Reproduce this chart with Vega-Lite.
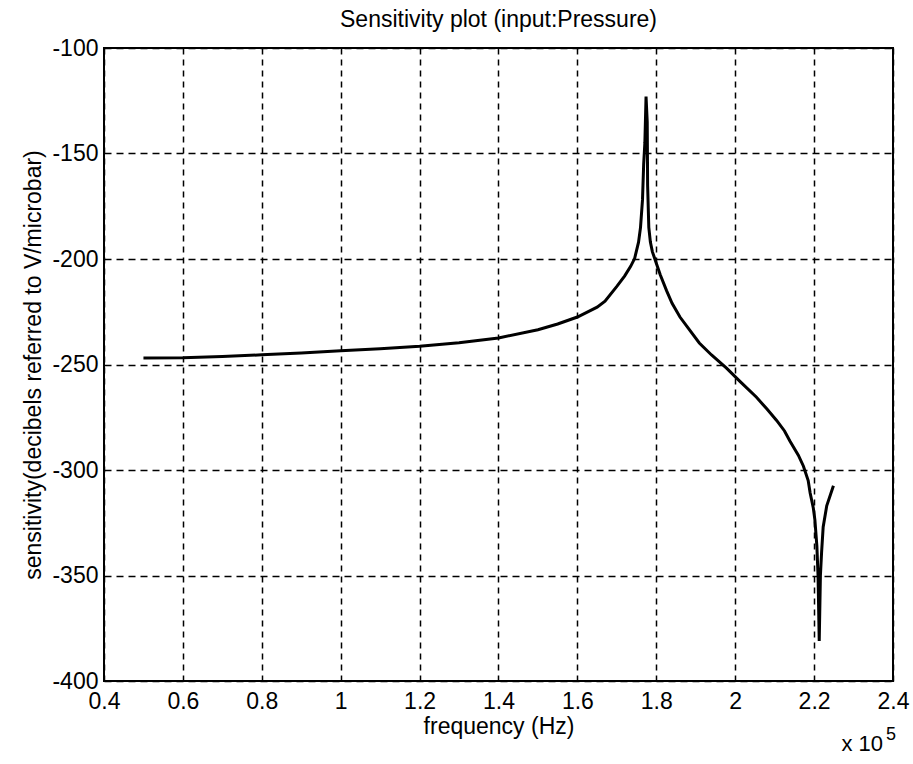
{
  "$schema": "https://vega.github.io/schema/vega-lite/v6.json",
  "width": 789,
  "height": 633,
  "autosize": {"type": "none"},
  "padding": {"left": 104, "top": 48, "right": 20, "bottom": 83},
  "background": "white",
  "config": {
    "font": "Liberation Sans",
    "view": {"stroke": "black", "strokeWidth": 2},
    "axis": {
      "labelFont": "Liberation Sans",
      "titleFont": "Liberation Sans",
      "labelFontSize": 23,
      "titleFontSize": 23,
      "titleFontWeight": "normal",
      "labelColor": "black",
      "titleColor": "black",
      "ticks": false,
      "domain": false,
      "grid": true,
      "gridColor": "black",
      "gridOpacity": 1,
      "gridWidth": 1.5
    }
  },
  "title": {
    "text": "Sensitivity plot (input:Pressure)",
    "fontSize": 23,
    "fontWeight": "normal",
    "font": "Liberation Sans",
    "color": "black",
    "offset": 5
  },
  "layer": [
    {
      "data": {
        "values": [
          {"f": 0.50, "s": -246.9},
          {"f": 0.60, "s": -246.8},
          {"f": 0.70, "s": -246.2},
          {"f": 0.80, "s": -245.4},
          {"f": 0.90, "s": -244.5},
          {"f": 1.00, "s": -243.5},
          {"f": 1.10, "s": -242.5},
          {"f": 1.20, "s": -241.4},
          {"f": 1.30, "s": -239.7},
          {"f": 1.40, "s": -237.4},
          {"f": 1.50, "s": -233.5},
          {"f": 1.55, "s": -230.8},
          {"f": 1.60, "s": -227.5},
          {"f": 1.65, "s": -222.8},
          {"f": 1.67, "s": -220.0},
          {"f": 1.70, "s": -213.0},
          {"f": 1.72, "s": -208.0},
          {"f": 1.735, "s": -203.5},
          {"f": 1.745, "s": -199.8},
          {"f": 1.755, "s": -192.0},
          {"f": 1.760, "s": -185.0},
          {"f": 1.765, "s": -172.0},
          {"f": 1.768, "s": -155.0},
          {"f": 1.771, "s": -145.0},
          {"f": 1.774, "s": -123.0},
          {"f": 1.777, "s": -135.0},
          {"f": 1.778, "s": -165.0},
          {"f": 1.781, "s": -185.0},
          {"f": 1.785, "s": -192.0},
          {"f": 1.79, "s": -196.5},
          {"f": 1.80, "s": -202.0},
          {"f": 1.81, "s": -207.5},
          {"f": 1.826, "s": -215.0},
          {"f": 1.84, "s": -221.0},
          {"f": 1.86, "s": -227.5},
          {"f": 1.88, "s": -232.5},
          {"f": 1.909, "s": -239.8},
          {"f": 1.94, "s": -245.5},
          {"f": 1.978, "s": -251.7},
          {"f": 2.012, "s": -258.0},
          {"f": 2.054, "s": -265.5},
          {"f": 2.08, "s": -271.0},
          {"f": 2.105, "s": -276.5},
          {"f": 2.125, "s": -281.5},
          {"f": 2.139, "s": -286.4},
          {"f": 2.16, "s": -293.0},
          {"f": 2.173, "s": -298.2},
          {"f": 2.185, "s": -305.0},
          {"f": 2.19, "s": -310.9},
          {"f": 2.198, "s": -318.0},
          {"f": 2.202, "s": -323.6},
          {"f": 2.207, "s": -336.0},
          {"f": 2.210, "s": -350.0},
          {"f": 2.213, "s": -381.0},
          {"f": 2.216, "s": -350.0},
          {"f": 2.219, "s": -339.0},
          {"f": 2.223, "s": -327.0},
          {"f": 2.232, "s": -317.0},
          {"f": 2.249, "s": -307.5}
        ]
      },
      "mark": {"type": "line", "color": "black", "strokeWidth": 3, "clip": true},
      "encoding": {
        "x": {
          "field": "f",
          "type": "quantitative",
          "scale": {"domain": [0.4, 2.4], "nice": false, "zero": false},
          "axis": {
            "title": "frequency (Hz)",
            "values": [0.4, 0.6, 0.8, 1, 1.2, 1.4, 1.6, 1.8, 2, 2.2, 2.4],
            "format": "~g",
            "labelPadding": 9,
            "titlePadding": 2,
            "gridDash": [6, 5],
            "labelFlush": false
          }
        },
        "y": {
          "field": "s",
          "type": "quantitative",
          "scale": {"domain": [-400, -100], "nice": false, "zero": false},
          "axis": {
            "title": "sensitivity(decibels referred to V/microbar)",
            "values": [-400, -350, -300, -250, -200, -150, -100],
            "labelExpr": "'' + datum.value",
            "labelPadding": 6,
            "titlePadding": 6,
            "gridDash": [7, 5],
            "labelFlush": false
          }
        }
      }
    },
    {
      "data": {"values": [{"label": "x 10"}]},
      "mark": {"type": "text", "font": "Liberation Sans", "fontWeight": "normal", "fontSize": 22, "align": "right", "baseline": "alphabetic", "dx": -10, "dy": 70, "color": "black"},
      "encoding": {"x": {"datum": 2.4}, "y": {"datum": -400}, "text": {"field": "label"}}
    },
    {
      "data": {"values": [{"label": "5"}]},
      "mark": {"type": "text", "font": "Liberation Sans", "fontWeight": "normal", "fontSize": 18, "align": "left", "baseline": "alphabetic", "dx": -7, "dy": 59, "color": "black"},
      "encoding": {"x": {"datum": 2.4}, "y": {"datum": -400}, "text": {"field": "label"}}
    }
  ]
}
